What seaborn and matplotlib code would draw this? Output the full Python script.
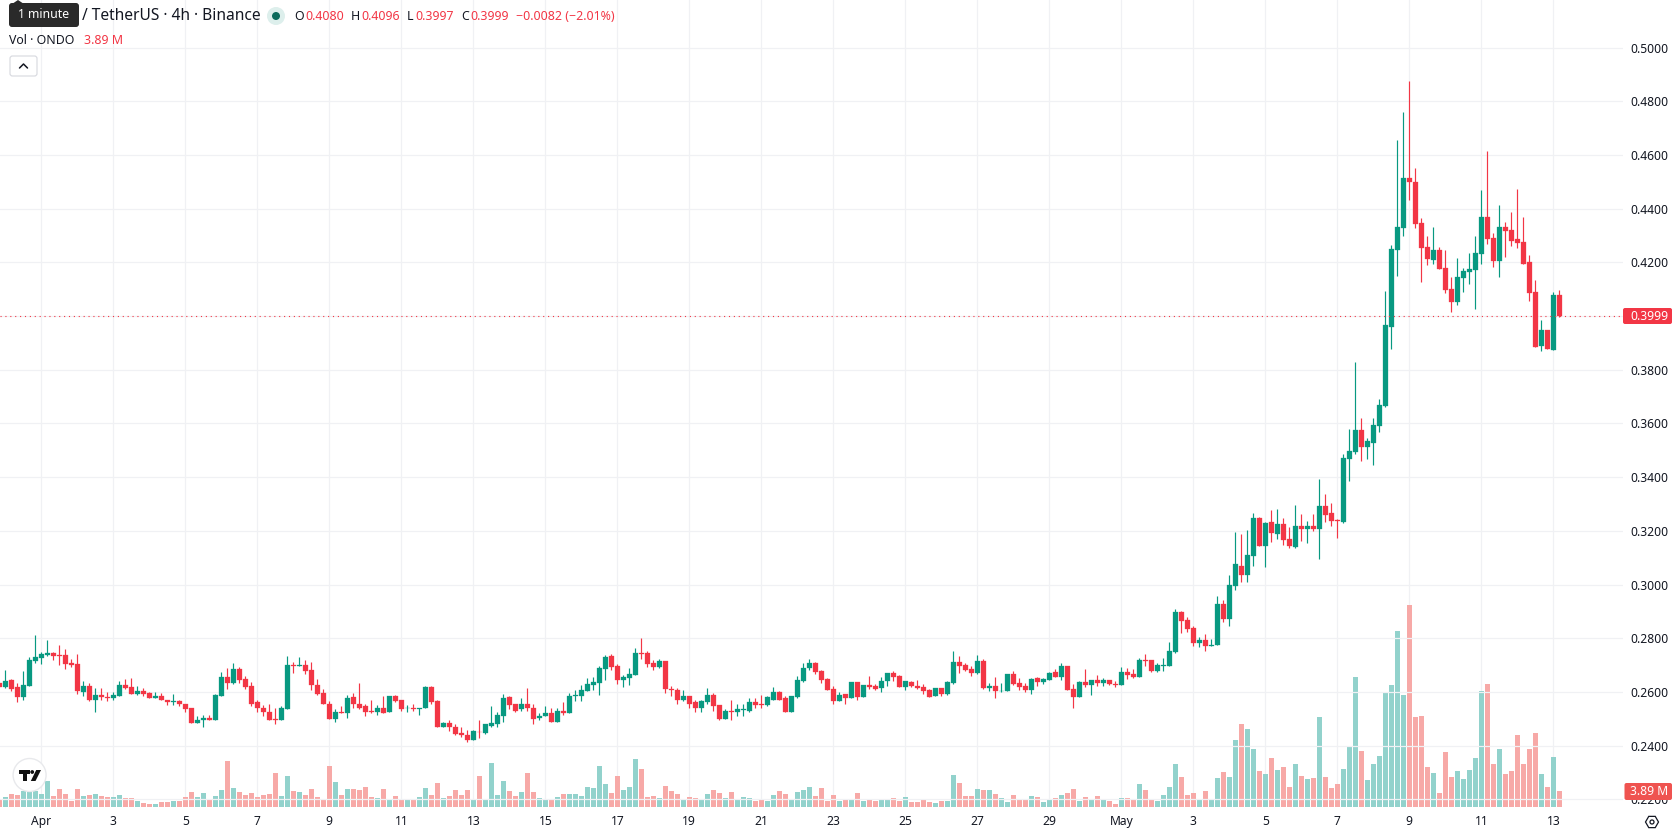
import numpy as np
import pandas as pd
import matplotlib
matplotlib.use("Agg")
import matplotlib.pyplot as plt
from matplotlib.patches import FancyBboxPatch, Circle, Polygon, RegularPolygon
import seaborn as sns

# ONDO/USDT 4h candles, prices in units of 0.0001
open_e4 = [
    2632,2618,2644,2618,2580,2621,2715,2726,2738,2745,
    2738,2738,2708,2704,2599,2621,2569,2588,2580,2576,
    2584,2625,2618,2591,2602,2595,2576,2584,2572,2561,
    2565,2557,2539,2486,2494,2505,2497,2584,2655,2632,
    2685,2647,2621,2561,2542,2524,2500,2494,2535,2700,
    2697,2700,2681,2625,2595,2557,2501,2527,2520,2580,
    2557,2546,2531,2524,2542,2524,2584,2569,2540,2542,
    2535,2539,2618,2565,2471,2486,2471,2449,2441,2423,
    2452,2449,2475,2482,2512,2580,2554,2535,2554,2542,
    2505,2509,2520,2490,2531,2520,2585,2584,2602,2625,
    2632,2685,2734,2696,2644,2651,2662,2745,2745,2708,
    2692,2715,2610,2606,2569,2584,2561,2542,2561,2588,
    2550,2501,2531,2527,2532,2531,2561,2554,2550,2572,
    2599,2576,2527,2580,2640,2689,2708,2678,2647,2610,
    2565,2591,2576,2636,2580,2625,2621,2614,2640,2670,
    2659,2618,2636,2621,2618,2606,2584,2614,2591,2632,
    2711,2700,2685,2670,2715,2614,2621,2602,2602,2666,
    2632,2621,2606,2651,2636,2644,2674,2655,2696,2610,
    2580,2636,2625,2644,2632,2644,2629,2625,2674,2666,
    2655,2719,2719,2678,2697,2696,2749,2899,2869,2839,
    2783,2794,2772,2775,2929,2872,2996,3071,3034,3105,
    3247,3142,3232,3187,3225,3169,3139,3217,3206,3217,
    3206,3292,3266,3240,3232,3469,3495,3574,3514,3529,
    3592,3664,3961,4246,4329,4516,4501,4348,4258,4209,
    4246,4179,4100,4051,4141,4164,4171,4231,4370,4291,
    4205,4332,4321,4288,4276,4201,4089,3890,3950,3875,4080,
]
close_e4 = [
    2618,2640,2610,2580,2625,2719,2730,2741,2745,2734,
    2735,2704,2700,2602,2621,2569,2588,2580,2578,2588,
    2625,2614,2591,2602,2591,2576,2584,2572,2561,2565,
    2554,2535,2486,2497,2505,2497,2588,2655,2632,2685,
    2644,2618,2557,2539,2524,2497,2497,2539,2700,2696,
    2700,2678,2625,2591,2554,2501,2527,2520,2576,2554,
    2542,2527,2524,2542,2520,2584,2565,2535,2542,2535,
    2542,2618,2561,2471,2486,2468,2445,2438,2423,2456,
    2450,2479,2486,2516,2576,2550,2531,2554,2539,2501,
    2512,2520,2490,2531,2520,2584,2588,2606,2629,2636,
    2689,2730,2692,2644,2655,2666,2745,2741,2704,2692,
    2715,2610,2606,2569,2584,2557,2542,2565,2588,2546,
    2501,2531,2524,2535,2535,2561,2550,2550,2580,2599,
    2572,2527,2584,2644,2689,2708,2674,2644,2606,2565,
    2588,2576,2636,2580,2625,2618,2610,2640,2670,2655,
    2618,2640,2621,2614,2602,2580,2614,2591,2636,2711,
    2696,2681,2670,2715,2614,2621,2602,2605,2666,2629,
    2618,2606,2647,2636,2647,2670,2655,2696,2606,2580,
    2636,2625,2644,2632,2644,2629,2626,2674,2662,2655,
    2719,2716,2678,2700,2700,2752,2899,2865,2835,2783,
    2794,2771,2775,2929,2872,3000,3075,3034,3109,3247,
    3142,3229,3191,3225,3165,3142,3217,3206,3217,3206,
    3292,3259,3236,3236,3472,3499,3574,3514,3533,3596,
    3668,3965,4250,4332,4516,4498,4344,4254,4212,4246,
    4175,4096,4051,4145,4168,4175,4235,4370,4288,4205,
    4332,4318,4280,4273,4194,4085,3886,3950,3879,4078,3999,
]
high_e4 = [
    2632,2681,2647,2632,2678,2729,2812,2749,2794,2749,
    2775,2760,2722,2741,2640,2632,2614,2614,2599,2599,
    2640,2647,2651,2621,2614,2599,2599,2595,2572,2591,
    2569,2557,2539,2509,2516,2516,2591,2674,2689,2708,
    2692,2659,2636,2572,2550,2557,2542,2546,2734,2711,
    2730,2719,2711,2647,2610,2565,2535,2546,2588,2595,
    2632,2554,2569,2550,2584,2584,2588,2572,2550,2554,
    2542,2621,2621,2572,2490,2494,2482,2468,2460,2460,
    2494,2482,2546,2524,2591,2584,2557,2576,2614,2557,
    2520,2546,2539,2542,2561,2595,2606,2625,2651,2655,
    2696,2738,2741,2704,2662,2689,2764,2801,2752,2719,
    2722,2715,2621,2614,2606,2584,2572,2569,2614,2595,
    2550,2535,2569,2554,2554,2576,2576,2588,2584,2618,
    2602,2584,2584,2659,2708,2722,2711,2681,2651,2621,
    2599,2591,2636,2636,2625,2659,2629,2655,2670,2678,
    2662,2640,2640,2644,2629,2610,2614,2614,2640,2752,
    2734,2708,2696,2738,2722,2632,2655,2632,2666,2678,
    2651,2632,2651,2655,2651,2674,2685,2708,2696,2629,
    2640,2685,2644,2662,2651,2644,2640,2692,2689,2685,
    2726,2741,2719,2708,2726,2786,2910,2902,2880,2846,
    2805,2816,2797,2959,2944,3034,3195,3187,3202,3266,
    3251,3232,3277,3281,3247,3214,3296,3262,3236,3262,
    3394,3337,3304,3244,3487,3581,3829,3619,3547,3619,
    3690,4092,4265,4655,4760,4876,4550,4366,4299,4332,
    4258,4246,4145,4216,4179,4235,4299,4468,4614,4310,
    4415,4351,4389,4475,4370,4228,4134,3984,3950,4089,4096,
]
low_e4 = [
    2618,2614,2602,2561,2572,2621,2708,2704,2734,2719,
    2700,2685,2692,2591,2584,2565,2527,2569,2565,2569,
    2584,2610,2591,2588,2584,2576,2576,2569,2550,2550,
    2546,2527,2486,2486,2471,2494,2497,2584,2610,2629,
    2632,2610,2546,2524,2512,2494,2482,2494,2535,2670,
    2696,2666,2606,2588,2554,2501,2490,2520,2505,2542,
    2535,2512,2520,2516,2520,2524,2561,2531,2527,2531,
    2516,2539,2557,2471,2468,2456,2441,2434,2415,2423,
    2430,2445,2468,2468,2490,2535,2524,2531,2531,2479,
    2497,2509,2490,2490,2516,2520,2565,2565,2602,2606,
    2588,2644,2681,2629,2618,2625,2662,2722,2692,2681,
    2689,2595,2584,2557,2565,2539,2527,2527,2557,2531,
    2494,2501,2497,2512,2509,2524,2539,2539,2546,2572,
    2569,2524,2527,2576,2636,2681,2666,2632,2606,2554,
    2565,2554,2576,2569,2580,2610,2606,2599,2621,2640,
    2618,2606,2618,2610,2591,2580,2584,2584,2588,2629,
    2670,2678,2659,2666,2610,2602,2576,2599,2602,2625,
    2606,2599,2591,2621,2629,2644,2655,2644,2606,2542,
    2580,2618,2588,2621,2621,2625,2618,2625,2647,2651,
    2655,2696,2674,2674,2678,2696,2745,2820,2824,2771,
    2767,2752,2771,2775,2861,2846,2981,3011,3011,3071,
    3142,3067,3157,3169,3146,3135,3135,3161,3154,3199,
    3094,3232,3217,3172,3229,3386,3487,3461,3469,3446,
    3570,3660,3879,4149,4299,4434,4329,4126,4190,4194,
    4175,4085,4014,4040,4089,4119,4025,4194,4269,4183,
    4145,4220,4261,4254,4194,4055,3886,3871,3879,3875,3997,
]
# Traded volume per candle, millions of ONDO
volume_m = [
    2.0,2.5,3.2,3.0,4.0,4.0,4.0,3.2,6.5,2.7,
    4.5,3.2,1.5,4.5,2.7,3.0,3.2,2.7,2.5,2.5,
    3.0,2.2,2.2,1.5,1.0,0.7,0.7,1.2,1.2,1.5,
    1.5,2.5,3.7,2.5,3.5,1.7,2.7,4.2,11.4,4.7,
    3.7,3.0,3.5,2.5,3.0,3.2,8.4,2.7,7.7,4.0,
    3.7,3.0,4.5,2.5,2.0,10.2,6.2,3.0,4.5,4.5,
    4.2,5.0,2.5,2.2,4.5,2.0,2.7,2.0,2.0,2.0,
    2.5,4.7,3.0,6.0,2.2,2.7,4.2,3.0,4.2,1.7,
    7.7,2.0,10.9,3.0,6.5,4.0,2.7,3.7,8.4,3.7,
    2.2,2.0,2.0,2.5,3.2,3.2,3.2,2.7,5.0,4.7,
    10.2,5.7,3.5,7.7,4.2,5.0,11.9,9.4,2.5,2.7,
    2.2,5.2,4.0,3.2,2.0,2.5,2.2,1.7,3.2,4.2,
    3.5,2.2,3.7,2.0,2.5,2.2,1.5,2.0,1.5,3.0,
    4.0,3.2,1.7,3.7,4.2,5.0,2.7,4.7,1.5,3.0,
    1.5,2.0,2.0,3.5,1.5,2.0,1.5,2.0,2.0,2.2,
    1.5,2.5,1.2,1.2,1.7,1.2,1.0,1.5,1.5,7.9,
    6.0,2.7,2.7,4.5,4.2,4.2,3.2,2.2,1.2,3.0,
    1.7,1.7,2.7,2.5,1.2,1.7,2.2,3.0,3.5,4.5,
    1.5,2.5,2.0,2.7,2.0,1.5,0.7,2.2,2.2,1.7,
    5.6,4.1,1.7,1.4,2.9,4.9,10.8,7.4,2.9,3.4,
    1.9,3.9,1.7,7.1,8.6,7.4,16.6,20.5,19.3,14.3,
    8.9,8.1,12.1,9.1,9.9,4.9,10.8,7.6,6.9,7.1,
    22.3,7.4,4.6,5.6,9.4,14.8,32.2,13.8,6.6,10.6,
    12.6,28.5,30.2,43.6,27.7,50.1,22.3,22.5,9.9,8.4,
    3.4,13.6,7.4,8.9,6.9,9.1,12.1,28.7,30.5,10.8,
    14.3,8.1,8.9,18.0,10.8,14.3,18.3,8.1,4.9,12.3,3.89,
]
date_labels = ["Apr","3","5","7","9","11","13","15","17","19","21","23","25","27","29",
               "May","3","5","7","9","11","13"]
price_ticks = [0.22,0.24,0.26,0.28,0.30,0.32,0.34,0.36,0.38,0.40,0.42,0.44,0.46,0.48,0.50]
last_price = 0.3999
last_volume_label = "3.89 M"

UP, DOWN = "#089981", "#F23645"
VOL_UP, VOL_DOWN = "#92D2CC", "#F7A9A7"
GRID, INK = "#F0F1F4", "#131722"
W, H = 1678, 835
PANE_R, PANE_B = 1623, 807      # right and bottom edges of the plotting pane, px

sns.set_theme(style="white")
plt.rcParams["font.family"] = ["Noto Sans", "DejaVu Sans"]

df = pd.DataFrame({
    "idx": np.arange(len(open_e4)),
    "open": np.array(open_e4) / 1e4,
    "close": np.array(close_e4) / 1e4,
    "high": np.array(high_e4) / 1e4,
    "low": np.array(low_e4) / 1e4,
    "volume": volume_m,
})
df["dir"] = np.where(df["close"] < df["open"], "down", "up")

fig = plt.figure(figsize=(W / 100, H / 100), dpi=100, facecolor="white")
rect = [0, 1 - PANE_B / H, PANE_R / W, PANE_B / H]

# Volume histogram sits underneath the candles on its own scale
ax_vol = fig.add_axes(rect, zorder=1)
sns.barplot(data=df, x="idx", y="volume", hue="dir", native_scale=True, dodge=False,
            palette={"up": VOL_UP, "down": VOL_DOWN}, saturation=1, width=0.84,
            linewidth=0, legend=False, ax=ax_vol)
ax_vol.set_ylim(0, PANE_B / 4.027)
ax_vol.set_xlim(0.112, 270.61)
ax_vol.set_axisbelow(True)
tick_pos = 7 + 12 * np.arange(len(date_labels))
ax_vol.set_xticks(tick_pos)
ax_vol.set_xticklabels(date_labels, fontsize=8.7, color=INK)
for lab, txt in zip(ax_vol.get_xticklabels(), date_labels):
    if not txt.isdigit():
        lab.set_fontweight("bold")
ax_vol.tick_params(axis="x", length=0, pad=6)
ax_vol.set_yticks([])
ax_vol.set_xlabel("")
ax_vol.set_ylabel("")
ax_vol.xaxis.grid(True, color=GRID, lw=0.9)
for s in ax_vol.spines.values():
    s.set_visible(False)

# Price pane
ax = fig.add_axes(rect, sharex=ax_vol, zorder=2)
ax.patch.set_alpha(0)
ax.set_ylim(0.21717, 0.51772)
ax.yaxis.tick_right()
ax.set_yticks(price_ticks)
ax.set_yticklabels([f"{p:.4f}" for p in price_ticks], fontsize=8.7, color=INK)
ax.tick_params(axis="y", length=0, pad=5)
ax.tick_params(axis="x", length=0, labelbottom=False)
for s in ax.spines.values():
    s.set_visible(False)
# Horizontal grid goes on the volume axes' level so bars cover it
for p in price_ticks:
    ax.axhline(p, color=GRID, lw=0.9, zorder=0)

colors = np.where(df["dir"] == "down", DOWN, UP)
ax.vlines(df["idx"], df["low"], df["high"], colors=colors, lw=0.85, zorder=3)
ax.bar(df["idx"], (df["close"] - df["open"]).abs(), bottom=df[["open", "close"]].min(axis=1),
       width=0.84, color=colors, edgecolor=colors, linewidth=0.2, zorder=4)
ax.axhline(last_price, color=DOWN, lw=0.8, linestyle=(0, (1, 3.4)), zorder=5)

# Interface furniture, drawn on a full-figure layer in pixel coordinates
ui = fig.add_axes([0, 0, 1, 1], zorder=5)
ui.set_xlim(0, W)
ui.set_ylim(H, 0)
ui.axis("off")
ui.patch.set_alpha(0)


def box(x0, y0, x1, y1, fc, ec="none", r=2.0, lw=0):
    ui.add_patch(FancyBboxPatch((x0 + r, y0 + r), x1 - x0 - 2 * r, y1 - y0 - 2 * r,
                                boxstyle=f"round,pad={r},rounding_size={r}",
                                fc=fc, ec=ec, lw=lw, mutation_aspect=1))


LEG = 9.4
ui.text(82, 16, "/ TetherUS · 4h · Binance", fontsize=11.2, color=INK, va="center")
box(9, 3, 79, 27, "#2A2A2A", r=3)
ui.add_patch(Polygon([[12, 4], [18, 0], [24, 4]], fc="#2A2A2A", ec="none"))
ui.text(44, 15, "1 minute", fontsize=8.8, color="white", ha="center", va="center")

ui.add_patch(Circle((276, 16), 9, fc="#DDEFEC", ec="none"))
ui.add_patch(Circle((276, 16), 4, fc="#0B6B5C", ec="none"))

legend_items = [
    (294, "O", INK), (305, "0.4080", DOWN), (351, "H", INK), (361, "0.4096", DOWN),
    (407, "L", INK), (415, "0.3997", DOWN), (461, "C", INK), (470, "0.3999", DOWN),
    (516, "−0.0082 (−2.01%)", DOWN),
]
for x, s, c in legend_items:
    ui.text(x, 16, s, fontsize=8.9, color=c, va="center")
ui.text(9, 40, "Vol · ONDO", fontsize=8.9, color=INK, va="center")
ui.text(84, 40, "3.89 M", fontsize=8.9, color=DOWN, va="center")

box(10, 56, 37, 76, "white", ec="#D6D8DE", r=2.5, lw=0.8)
ui.plot([19.5, 23.5, 27.5], [68, 64, 68], color=INK, lw=1.1, solid_capstyle="round")

# Chart logo badge
ui.add_patch(Circle((29.6, 775), 16.5, fc="white", ec="#E8E9EC", lw=1))
ui.add_patch(Polygon([[18.6, 770], [29.5, 770], [29.5, 773.6], [27, 773.6], [27, 781],
                      [23, 781], [23, 773.6], [18.6, 773.6]], fc="#111111", ec="none"))
ui.add_patch(Circle((32.2, 772), 1.9, fc="#111111", ec="none"))
ui.add_patch(Polygon([[36.2, 770], [41, 770], [35.5, 781], [30.8, 781]], fc="#111111", ec="none"))

# Last-price and last-volume tags on the scale
box(1623, 308, 1672, 324, DOWN, r=2)
ui.text(1630, 316, "0.3999", fontsize=8.7, color="white", va="center")
box(1624.5, 783, 1672, 800, "#EF5350", r=2)
ui.text(1630, 791.5, last_volume_label, fontsize=8.7, color="white", va="center")

# Scale settings icon
ui.add_patch(RegularPolygon((1652, 822), 6, radius=6.5, orientation=np.pi / 6,
                            fc="none", ec=INK, lw=0.9))
ui.add_patch(Circle((1652, 822), 2, fc="none", ec=INK, lw=0.9))

fig.savefig("out.png", dpi=100, facecolor="white")
